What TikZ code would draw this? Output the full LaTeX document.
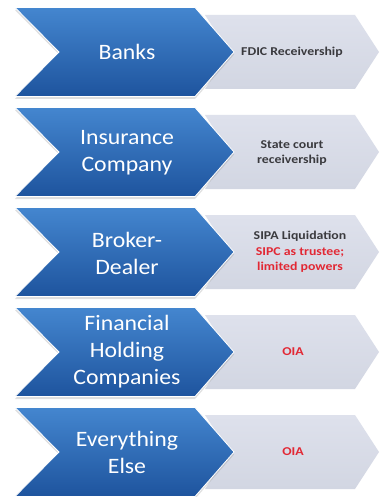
\documentclass[tikz,border=0pt]{standalone}
\usepackage{fontspec}
\setmainfont{Carlito}
\newfontfamily\bluefont{Carlito}[FakeStretch=1.08]
\newfontfamily\grayfont{Carlito}[FakeStretch=1.15]
\usetikzlibrary{shadows}
\definecolor{chevtop}{RGB}{68,134,207}
\definecolor{chevbot}{RGB}{30,84,158}
\definecolor{paneltop}{RGB}{222,225,236}
\definecolor{panelbot}{RGB}{210,214,226}
\definecolor{paneltext}{RGB}{58,58,62}
\definecolor{alertred}{RGB}{226,40,52}
\tikzset{
  chevron/.style={top color=chevtop, bottom color=chevbot, draw=white, line width=0.8pt,
    drop shadow={opacity=0.25, shadow xshift=0pt, shadow yshift=-2.5pt}},
  panel/.style={top color=paneltop, bottom color=panelbot, draw=none},
  bluelabel/.style={text=white, align=center, inner sep=0pt,
    font={\bluefont\fontsize{22}{27}\selectfont}},
  graylabel/.style={text=paneltext, align=center, inner sep=0pt,
    font={\grayfont\bfseries\fontsize{12}{15.5}\selectfont}},
  redtext/.style={text=alertred}
}
\begin{document}
\begin{tikzpicture}[x=1pt,y=-1pt]
  \useasboundingbox (0,0) rectangle (381,497);
  \fill[white] (0,0) rectangle (381,497);
  % five rows: grey result panel behind a blue chevron
  \foreach \cy in {52,152,252,352,452}{
    \path[panel] (205,\cy-37) -- (355,\cy-37) -- (379,\cy) -- (355,\cy+37)
      -- (205,\cy+37) -- (229,\cy) -- cycle;
    \path[chevron] (15,\cy-44.5) -- (195,\cy-44.5) -- (234,\cy) -- (195,\cy+44.5)
      -- (15,\cy+44.5) -- (59,\cy) -- cycle;
  }
  % entity labels
  \node[bluelabel] (b1) at (127,52) {Banks};
  \node[bluelabel] (b2) at (127,153) {Insurance\\Company};
  \node[bluelabel] (b3) at (127,253) {Broker-\\Dealer};
  \node[bluelabel] (b4) at (127,352) {Financial\\Holding\\Companies};
  \node[bluelabel] (b5) at (127,452) {Everything\\Else};
  % resolution regimes
  \node[graylabel] (g1) at (292,52) {FDIC Receivership};
  \node[graylabel] (g2) at (292,153) {State court\\receivership};
  \node[graylabel] (g3) at (300,252) {SIPA Liquidation\\\textcolor{alertred}{SIPC as trustee;}\\\textcolor{alertred}{limited powers}};
  \node[graylabel,redtext] (g4) at (293,352) {OIA};
  \node[graylabel,redtext] (g5) at (293,452) {OIA};
\end{tikzpicture}
\end{document}
